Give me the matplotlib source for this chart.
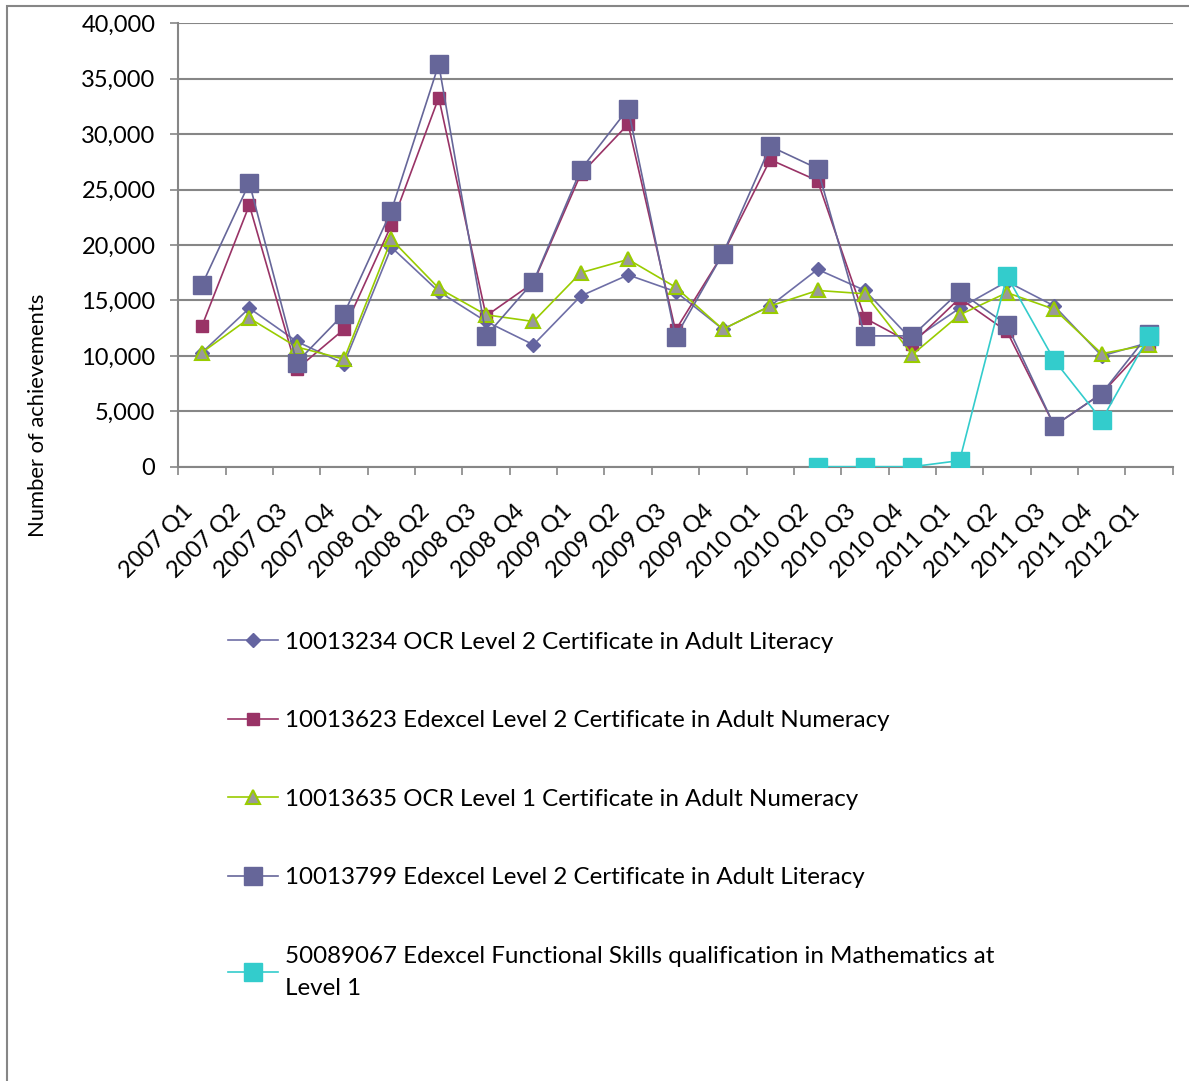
import matplotlib
matplotlib.use("Agg")
import matplotlib.pyplot as plt
import matplotlib.transforms as mtransforms
from matplotlib.patches import Rectangle

plt.rcParams['font.family'] = ['Lato', 'DejaVu Sans']

quarters = ["2007 Q1", "2007 Q2", "2007 Q3", "2007 Q4",
            "2008 Q1", "2008 Q2", "2008 Q3", "2008 Q4",
            "2009 Q1", "2009 Q2", "2009 Q3", "2009 Q4",
            "2010 Q1", "2010 Q2", "2010 Q3", "2010 Q4",
            "2011 Q1", "2011 Q2", "2011 Q3", "2011 Q4",
            "2012 Q1"]

ocr_l2_literacy = [10300, 14300, 11300, 9300, 19800, 15800, 13100, 11000,
                   15400, 17300, 15800, 12400, 14500, 17800, 15900, 11400,
                   14300, 16700, 14500, 10000, 11200]
edexcel_l2_numeracy = [12700, 23600, 8800, 12400, 21800, 33300, 13600, 16600,
                       26400, 30900, 12300, 19200, 27700, 25800, 13400, 11100,
                       15200, 12200, 3700, 6600, 11200]
ocr_l1_numeracy = [10300, 13400, 10800, 9700, 20500, 16100, 13700, 13100,
                   17500, 18700, 16200, 12400, 14500, 15900, 15600, 10100,
                   13700, 15700, 14200, 10200, 11000]
edexcel_l2_literacy = [16400, 25600, 9400, 13800, 23100, 36300, 11800, 16700,
                       26800, 32300, 11700, 19200, 28900, 26900, 11800, 11800,
                       15800, 12800, 3700, 6600, 12000]
fs_quarters = ["2010 Q2", "2010 Q3", "2010 Q4", "2011 Q1", "2011 Q2",
               "2011 Q3", "2011 Q4", "2012 Q1"]
fs_maths_l1 = [0, 0, 0, 550, 17200, 9600, 4200, 11800]

labels = ["10013234 OCR Level 2 Certificate in Adult Literacy",
          "10013623 Edexcel Level 2 Certificate in Adult Numeracy",
          "10013635 OCR Level 1 Certificate in Adult Numeracy",
          "10013799 Edexcel Level 2 Certificate in Adult Literacy",
          "50089067 Edexcel Functional Skills qualification in Mathematics at\nLevel 1"]

fig = plt.figure(figsize=(11.89, 10.81), dpi=100)
ax = fig.add_axes([178.3/1189, 1-466.7/1081, 994.4/1189, 443.4/1081])

x = list(range(len(quarters)))
xfs = [quarters.index(q) for q in fs_quarters]

lw = 1.2
h1, = ax.plot(x, ocr_l2_literacy, color="#6E6EA6", lw=lw, marker="D", ms=7.5,
              mfc="#6464A0", mec="#6464A0", label=labels[0], zorder=3)
h2, = ax.plot(x, edexcel_l2_numeracy, color="#993366", lw=lw, marker="s", ms=8.5,
              mfc="#993366", mec="#993366", label=labels[1], zorder=4)
h3, = ax.plot(x, ocr_l1_numeracy, color="#99CC00", lw=lw, marker="^", ms=10.5,
              mfc="#999999", mec="#99CC00", mew=1.5, label=labels[2], zorder=5)
h4, = ax.plot(x, edexcel_l2_literacy, color="#666699", lw=lw, marker="s", ms=13,
              mfc="#666699", mec="#666699", label=labels[3], zorder=6)
h5, = ax.plot(xfs, fs_maths_l1, color="#33CCCC", lw=lw, marker="s", ms=13,
              mfc="#33CCCC", mec="#33CCCC", label=labels[4], zorder=7)

ax.set_xlim(-0.5, len(quarters) - 0.5)
ax.set_ylim(0, 40000)
ax.set_yticks(range(0, 40001, 5000))
ax.set_yticklabels([f"{v:,}" for v in range(0, 40001, 5000)], fontsize=17)
ax.set_xticks([i - 0.5 for i in range(len(quarters) + 1)])
ax.set_xticklabels([])
offset = mtransforms.ScaledTranslation(-20/100, -34/100, fig.dpi_scale_trans)
for i, q in enumerate(quarters):
    ax.text(i, 0, q, transform=ax.get_xaxis_transform() + offset,
            rotation=45, ha="right", va="top", rotation_mode="anchor",
            fontsize=17)
ax.tick_params(axis="x", length=6, width=1.2, color="#868686", direction="out")
ax.tick_params(axis="y", length=6, width=1.2, color="#868686", direction="out",
               pad=10.5)

ax.grid(axis="y", color="#868686", lw=1.5, zorder=0)
ax.set_axisbelow(True)
for s in ["top", "right"]:
    ax.spines[s].set_visible(False)
for s in ["left", "bottom"]:
    ax.spines[s].set_color("#868686")
    ax.spines[s].set_linewidth(1.5)

ax.set_ylabel("Number of achievements", fontsize=15.8)
ax.yaxis.set_label_coords(-0.131, 0.1166)

leg = fig.legend(handles=[h1, h2, h3, h4, h5], loc="upper left",
                 bbox_to_anchor=(218/1189, 1-622/1081), frameon=False,
                 fontsize=17.4, labelspacing=2.38, handlelength=2.07,
                 handletextpad=0.29, borderaxespad=0)
leg.get_texts()[4].set_linespacing(1.65)

fig.patches.append(Rectangle((7/1189, -0.1), 1.2, 1.1 - 6/1081,
                             transform=fig.transFigure, fill=False,
                             edgecolor="#868686", lw=1.5))

fig.savefig("out.png", dpi=100)
